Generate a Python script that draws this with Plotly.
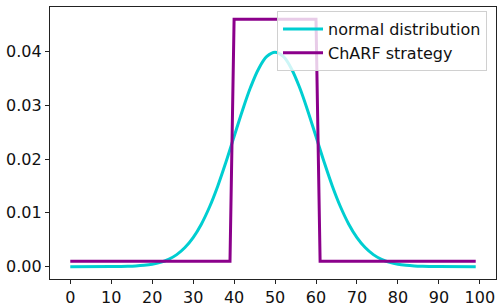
import plotly.graph_objects as go

# normal distribution (x, density)
normal_x = [0, 10, 12, 14, 16, 18, 20, 22, 24, 26, 28, 30, 32, 34, 36, 38, 40, 42, 44, 46, 48, 50,
            52, 54, 56, 58, 60, 62, 64, 66, 68, 70, 72, 74, 76, 78, 80, 82, 84, 86, 88, 90, 99]
normal_y = [0.0, 0.00001, 0.00003, 0.00006, 0.00012, 0.00024, 0.00044, 0.00079, 0.00136, 0.00224,
            0.00355, 0.0054, 0.0079, 0.01109, 0.01497, 0.01942, 0.0242, 0.02897, 0.03332, 0.03683,
            0.0391, 0.03989, 0.0391, 0.03683, 0.03332, 0.02897, 0.0242, 0.01942, 0.01497, 0.01109,
            0.0079, 0.0054, 0.00355, 0.00224, 0.00136, 0.00079, 0.00044, 0.00024, 0.00012, 0.00006,
            0.00003, 0.00001, 0.0]

# ChARF strategy
charf_x = [0, 39, 40, 60, 61, 99]
charf_y = [0.001, 0.001, 0.046, 0.046, 0.001, 0.001]

x_ticks = [0, 10, 20, 30, 40, 50, 60, 70, 80, 90, 100]
y_ticks = [0.00, 0.01, 0.02, 0.03, 0.04]

fig = go.Figure()
fig.add_trace(go.Scatter(x=normal_x, y=normal_y, mode="lines", name="normal distribution",
                         legendgroup="a",
                         line=dict(color="#00CED1", width=3, shape="spline")))
fig.add_trace(go.Scatter(x=charf_x, y=charf_y, mode="lines", name="ChARF strategy",
                         legendgroup="b",
                         line=dict(color="#8B008B", width=3)))

axis_common = dict(showgrid=False, zeroline=False, showline=True, mirror=True, automargin=False,
                   linecolor="#222", linewidth=1.2, ticks="outside", ticklen=4,
                   tickcolor="#222", tickfont=dict(family="DejaVu Sans", size=16, color="#111"))

fig.update_layout(
    width=503, height=308,
    margin=dict(l=50, r=7, t=7, b=29),
    paper_bgcolor="white", plot_bgcolor="white",
    xaxis=dict(range=[-4.95, 103.95], tickvals=x_ticks, **axis_common),
    yaxis=dict(range=[-0.0023, 0.0483], tickvals=y_ticks, tickformat=".2f", **axis_common),
    legend=dict(x=0.509, y=0.985, xanchor="left", yanchor="top",
                bgcolor="rgba(255,255,255,0.8)", bordercolor="#d0d0d0", borderwidth=1,
                font=dict(family="DejaVu Sans", size=16, color="#111"),
                tracegroupgap=0, itemwidth=40, entrywidth=163, entrywidthmode="pixels"),
    showlegend=True,
)

fig.write_html("out.html", config={"displayModeBar": False},
               post_script="document.body.style.margin='0';document.body.style.overflow='hidden';")
